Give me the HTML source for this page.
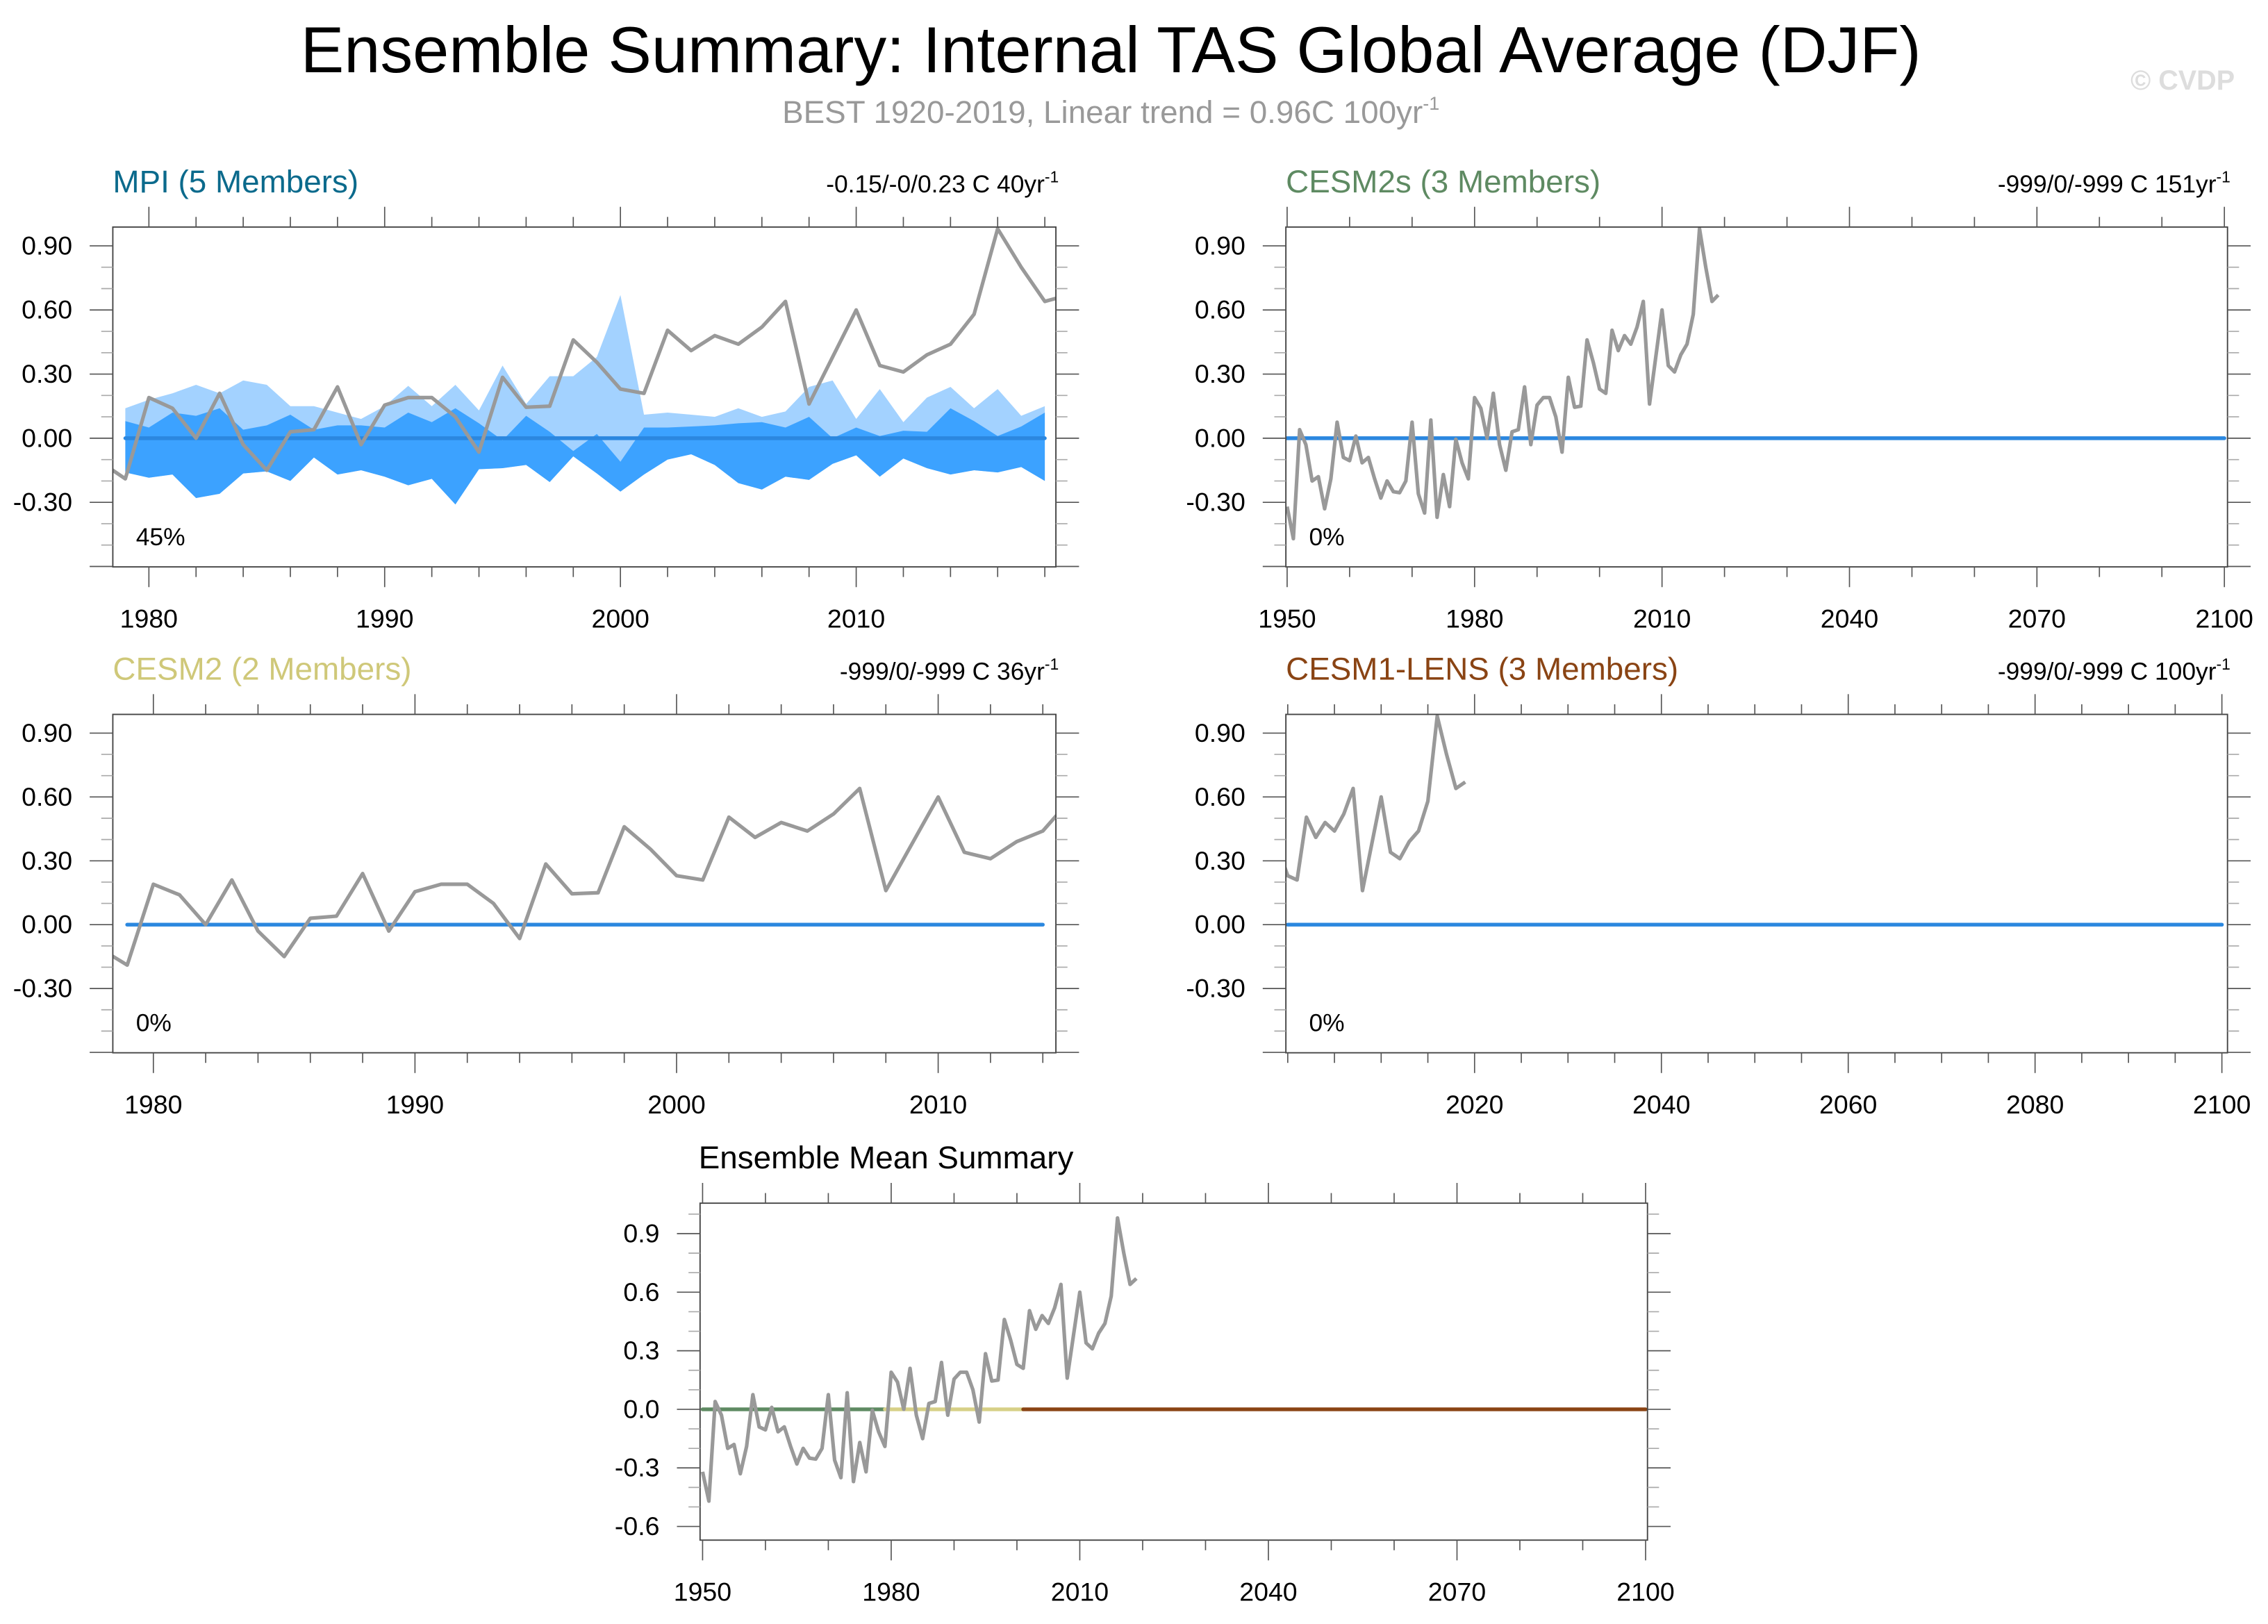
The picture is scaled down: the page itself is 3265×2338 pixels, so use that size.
<!DOCTYPE html>
<html><head><meta charset="utf-8"><style>
html,body{margin:0;padding:0;background:#fff}
svg{display:block;font-family:"Liberation Sans",sans-serif}
</style></head><body>
<svg id="fig" width="3265" height="2338" viewBox="0 0 1568 1123" preserveAspectRatio="none" xmlns="http://www.w3.org/2000/svg">
<text x="768" y="50" text-anchor="middle" font-size="45" fill="#000">Ensemble Summary: Internal TAS Global Average (DJF)</text>
<text x="768" y="85" text-anchor="middle" font-size="22" fill="#999">BEST 1920-2019, Linear trend = 0.96C 100yr<tspan dy="-9" font-size="13">-1</tspan></text>
<text x="1545" y="62" text-anchor="end" font-size="19" font-weight="bold" fill="#ddd">© CVDP</text>
</svg>
<script>
// Observations (BEST DJF anomaly), 1950..2019
const obsYears = [];
for (let y = 1950; y <= 2019; y++) obsYears.push(y);
const obsValues = [-0.32,-0.47,0.04,-0.03,-0.20,-0.18,-0.33,-0.19,0.075,-0.09,
 -0.105,0.01,-0.115,-0.09,-0.19,-0.28,-0.20,-0.25,-0.255,-0.20,
 0.075,-0.26,-0.35,0.085,-0.37,-0.17,-0.32,-0.005,-0.115,-0.19,
 0.19,0.14,0.00,0.21,-0.03,-0.15,0.03,0.04,0.24,-0.03,
 0.155,0.19,0.19,0.10,-0.065,0.285,0.145,0.15,0.46,0.355,
 0.23,0.21,0.505,0.41,0.48,0.44,0.52,0.64,0.16,0.38,
 0.60,0.34,0.31,0.39,0.44,0.58,0.98,0.80,0.64,0.67];
// MPI ensemble spread, 1979..2018
const mpiYears = [];
for (let y = 1979; y <= 2018; y++) mpiYears.push(y);
const mpiMax = [0.14,0.18,0.21,0.25,0.21,0.27,0.25,0.15,0.15,0.12,0.09,0.15,0.245,0.15,0.25,0.13,0.34,0.16,0.29,0.29,
 0.38,0.67,0.11,0.12,0.11,0.10,0.14,0.10,0.125,0.24,0.27,0.09,0.23,0.075,0.19,0.24,0.14,0.23,0.105,0.15];
const mpiHigh = [0.08,0.05,0.12,0.105,0.14,0.04,0.06,0.11,0.04,0.06,0.06,0.05,0.12,0.075,0.14,0.07,-0.01,0.105,0.03,-0.06,
 0.02,-0.11,0.05,0.05,0.055,0.06,0.07,0.075,0.05,0.10,0.00,0.05,0.01,0.035,0.03,0.14,0.08,0.01,0.055,0.12];
const mpiLow = [-0.16,-0.185,-0.17,-0.28,-0.26,-0.165,-0.155,-0.20,-0.09,-0.17,-0.15,-0.18,-0.22,-0.19,-0.31,-0.145,-0.14,-0.125,-0.205,-0.085,
 -0.165,-0.25,-0.17,-0.10,-0.075,-0.125,-0.21,-0.24,-0.18,-0.195,-0.12,-0.08,-0.18,-0.095,-0.14,-0.17,-0.15,-0.16,-0.135,-0.20];
const ensMean = [0,0]; // zero ensemble-mean reference
const yTicks2 = ["0.90","0.60","0.30","0.00","-0.30"];
const yTickVals2 = [0.9,0.6,0.3,0.0,-0.3];
const yTicks1 = ["0.9","0.6","0.3","0.0","-0.3","-0.6"];
const yTickVals1 = [0.9,0.6,0.3,0.0,-0.3,-0.6];

const NS = "http://www.w3.org/2000/svg";
const svg = document.getElementById('fig');
function mk(tag, attrs, parent) {
  const e = document.createElementNS(NS, tag);
  for (const k in attrs) e.setAttribute(k, attrs[k]);
  (parent || svg).appendChild(e);
  return e;
}

function panel(c) {
  const g = mk('g', {});
  
  
  const X = v => c.x0 + (v - c.xmin) / (c.xmax - c.xmin) * (c.x1 - c.x0);
  const Y = v => c.y1 - (v - c.ymin) / (c.ymax - c.ymin) * (c.y1 - c.y0);
  const clipId = c.name + '-clip';
  const cp = mk('clipPath', {id: clipId}, g);
  mk('rect', {x: c.x0, y: c.y0, width: c.x1 - c.x0, height: c.y1 - c.y0}, cp);
  const plot = mk('g', {'clip-path': 'url(#' + clipId + ')'}, g);
  
  
  if (c.bands) {
    const b = c.bands;
    let up = b.years.map((yr, i) => X(yr) + ',' + Y(b.max[i]));
    let lo = b.years.map((yr, i) => X(yr) + ',' + Y(b.low[i])).reverse();
    const p1 = mk('polygon', {points: up.concat(lo).join(' '), fill: '#a3d2ff'}, plot);
    
    
    up = b.years.map((yr, i) => X(yr) + ',' + Y(b.high[i]));
    const p2 = mk('polygon', {points: up.concat(lo).join(' '), fill: '#3ca2ff'}, plot);
    
    
  }
  c.zeroLines.forEach(z => {
    const l = mk('line', {x1: X(z.from), x2: X(z.to), y1: Y(ensMean[0]), y2: Y(ensMean[1]), stroke: z.color, 'stroke-width': 2.6, 'stroke-linecap': 'round'}, plot);
    
    
  });
  const pts = obsYears.map((yr, i) => X(yr) + ',' + Y(obsValues[i])).join(' ');
  const ol = mk('polyline', {points: pts, fill: 'none', stroke: '#999', 'stroke-width': 2.5, 'stroke-linejoin': 'round'}, plot);
  
  
  const fr = mk('rect', {x: c.x0, y: c.y0, width: c.x1 - c.x0, height: c.y1 - c.y0, fill: 'none', stroke: '#444', 'stroke-width': 0.9}, g);
  
  
  // x ticks
  for (let v = c.xminor0; v <= c.xmax + 1e-6; v += c.xminor) {
    if (v < c.xmin - 1e-6) continue;
    const major = Math.abs((v - c.xmajor0) / c.xmajor - Math.round((v - c.xmajor0) / c.xmajor)) < 1e-6 && v >= c.xmajor0;
    const len = major ? 14 : 7;
    mk('line', {x1: X(v), x2: X(v), y1: c.y0, y2: c.y0 - len, stroke: '#555', 'stroke-width': 0.8}, g);
    mk('line', {x1: X(v), x2: X(v), y1: c.y1, y2: c.y1 + len, stroke: '#555', 'stroke-width': 0.8}, g);
    if (major && c.xlabels) {
      const t = mk('text', {x: X(v), y: c.y1 + 42, 'text-anchor': 'middle', 'font-size': 18}, g);
      t.textContent = String(Math.round(v));
      
      
    }
  }
  // y ticks
  for (let k = -10; k <= 12; k++) {
    const v = k * 0.1;
    if (v < c.ymin - 1e-6 || v > c.ymax + 1e-6) continue;
    const major = Math.abs(k % 3) === 0;
    const len = major ? 16 : 8;
    mk('line', {x1: c.x0, x2: c.x0 - len, y1: Y(v), y2: Y(v), stroke: major ? '#555' : '#aaa', 'stroke-width': 0.8}, g);
    mk('line', {x1: c.x1, x2: c.x1 + len, y1: Y(v), y2: Y(v), stroke: major ? '#555' : '#aaa', 'stroke-width': 0.8}, g);
  }
  c.yTickVals.forEach((v, i) => {
    const t = mk('text', {x: c.x0 - 28, y: Y(v) + 6, 'text-anchor': 'end', 'font-size': 18}, g);
    t.textContent = c.yTicks[i];
    
    
  });
  const tt = mk('text', {x: c.titleX, y: c.y0 - 24, 'font-size': 22, fill: c.titleColor}, g);
  tt.textContent = c.title;
  
  
  if (c.trend) {
    const tr = mk('text', {x: c.x1 + 2, y: c.y0 - 24, 'text-anchor': 'end', 'font-size': 17}, g);
    tr.innerHTML = c.trend + '<tspan dy="-7" font-size="11">-1</tspan>';
    
    
  }
  if (c.pct) {
    const pc = mk('text', {x: c.x0 + 16, y: c.y1 - 15, 'font-size': 17}, g);
    pc.textContent = c.pct;
    
    
  }
}

panel({name: 'mpi-panel', x0: 78, x1: 730, y0: 157, y1: 392, xmin: 1978.47, xmax: 2018.47, ymin: -0.602, ymax: 0.988,
  xminor0: 1978, xminor: 2, xmajor0: 1980, xmajor: 10, xlabels: true, yTicks: yTicks2, yTickVals: yTickVals2,
  title: 'MPI (5 Members)', titleX: 78, titleColor: '#0b6a8c', trend: '-0.15/-0/0.23 C 40yr', pct: '45%',
  bands: {years: mpiYears, max: mpiMax, high: mpiHigh, low: mpiLow},
  zeroLines: [{from: 1979, to: 2018, color: '#2b87df'}]});
panel({name: 'cesm2s-panel', x0: 889, x1: 1540, y0: 157, y1: 392, xmin: 1949.8, xmax: 2100.5, ymin: -0.602, ymax: 0.988,
  xminor0: 1950, xminor: 10, xmajor0: 1950, xmajor: 30, xlabels: true, yTicks: yTicks2, yTickVals: yTickVals2,
  title: 'CESM2s (3 Members)', titleX: 889, titleColor: '#5e8a62', trend: '-999/0/-999 C 151yr', pct: '0%',
  zeroLines: [{from: 1950, to: 2100, color: '#2b87df'}]});
panel({name: 'cesm2-panel', x0: 78, x1: 730, y0: 494, y1: 728, xmin: 1978.45, xmax: 2014.5, ymin: -0.602, ymax: 0.988,
  xminor0: 1978, xminor: 2, xmajor0: 1980, xmajor: 10, xlabels: true, yTicks: yTicks2, yTickVals: yTickVals2,
  title: 'CESM2 (2 Members)', titleX: 78, titleColor: '#cfc879', trend: '-999/0/-999 C 36yr', pct: '0%',
  zeroLines: [{from: 1979, to: 2014, color: '#2b87df'}]});
panel({name: 'cesm1-lens-panel', x0: 889, x1: 1540, y0: 494, y1: 728, xmin: 1999.8, xmax: 2100.6, ymin: -0.602, ymax: 0.988,
  xminor0: 2000, xminor: 5, xmajor0: 2020, xmajor: 20, xlabels: true, yTicks: yTicks2, yTickVals: yTickVals2,
  title: 'CESM1-LENS (3 Members)', titleX: 889, titleColor: '#8a4414', trend: '-999/0/-999 C 100yr', pct: '0%',
  zeroLines: [{from: 2000, to: 2100, color: '#2b87df'}]});
panel({name: 'ensemble-mean-panel', x0: 484, x1: 1139, y0: 832, y1: 1065, xmin: 1949.6, xmax: 2100.3, ymin: -0.67, ymax: 1.056,
  xminor0: 1950, xminor: 10, xmajor0: 1950, xmajor: 30, xlabels: true, yTicks: yTicks1, yTickVals: yTickVals1,
  title: 'Ensemble Mean Summary', titleX: 483, titleColor: '#000',
  zeroLines: [{from: 1950, to: 1979, color: '#5e8a62'}, {from: 1979, to: 2001, color: '#d7d087'}, {from: 2001, to: 2100, color: '#8a4414'}]});
</script>
</body></html>
